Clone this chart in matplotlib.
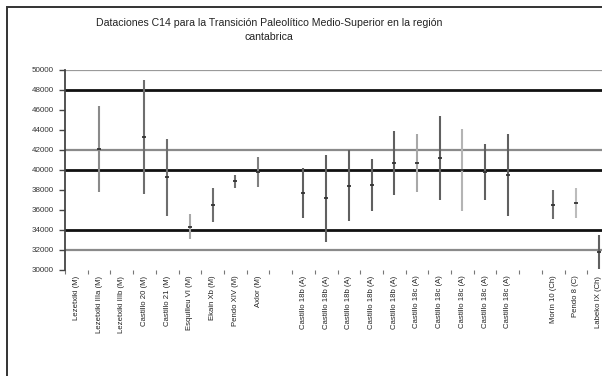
import numpy as np
import matplotlib
matplotlib.use("Agg")
import matplotlib.pyplot as plt
from matplotlib.patches import Rectangle

plt.rcParams['font.family'] = ['Liberation Sans', 'DejaVu Sans']

# Muestras (una por columna; las cadenas vacías son huecos entre grupos)
muestras = [
    "Lezetxiki (M)", "Lezetxiki IIIa (M)", "Lezetxiki IIIb (M)",
    "Castillo 20 (M)", "Castillo 21 (M)", "Esquilleu VI (M)",
    "Ekain Xb (M)", "Pendo XIV (M)", "Axlor (M)", "",
    "Castillo 18b (A)", "Castillo 18b (A)", "Castillo 18b (A)",
    "Castillo 18b (A)", "Castillo 18b (A)",
    "Castillo 18c (A)", "Castillo 18c (A)", "Castillo 18c (A)",
    "Castillo 18c (A)", "Castillo 18c (A)", "",
    "Morín 10 (Ch)", "Pendo 8 (C)", "Labeko IX (Ch)",
]

# Fecha BP y desviación (NaN = sin datación representada)
fecha = [np.nan, 42100, np.nan, 43300, 39300, 34350, 36550, 38900, 39800, np.nan,
         37700, 37170, 38450, 38500, 40700, 40700, 41200, 40000, 39800, 39500,
         np.nan, 36550, 36700, 31800]
sigma = [np.nan, 4300, np.nan, 5700, 3850, 1250, 1700, 650, 1500, np.nan,
         2530, 4330, 3550, 2570, 3180, 2920, 4200, 4100, 2800, 4100,
         np.nan, 1420, 1530, 1700]

# Líneas de referencia horizontales
niveles_ref = [50000, 48000, 42000, 40000, 34000, 32000]
estilo_ref = [("#9a9a9a", 1.6), ("#111111", 2.0), ("#8a8a8a", 1.6),
              ("#111111", 2.0), ("#111111", 2.0), ("#8a8a8a", 1.6)]

color_barra = ["#808080", "#8a8a8a", "#808080", "#6e6e6e", "#6e6e6e", "#a8a8a8",
               "#6e6e6e", "#6e6e6e", "#808080", "#808080",
               "#606060", "#606060", "#606060", "#606060", "#606060",
               "#a8a8a8", "#606060", "#b4b4b4", "#606060", "#606060",
               "#808080", "#6e6e6e", "#bcbcbc", "#606060"]

W, H = 602, 376
fig = plt.figure(figsize=(W / 100, H / 100), dpi=100)
fig.patch.set_facecolor("white")

# Marco exterior del gráfico
fig.add_artist(Rectangle((7 / W, -0.1), 1.2, 1 - 7 / H + 0.1,
                         transform=fig.transFigure, fill=False,
                         edgecolor="#333333", linewidth=1.4))

ax = fig.add_axes([65 / W, 106 / H, 545 / W, 200 / H])
n = len(muestras)
x = np.arange(n)
f = np.array(fecha, dtype=float)
s = np.array(sigma, dtype=float)

for nivel, (c, lw) in zip(niveles_ref, estilo_ref):
    ax.axhline(nivel, color=c, linewidth=lw, zorder=1)

ok = ~np.isnan(f)
ax.vlines(x[ok], (f - s)[ok], (f + s)[ok],
          colors=[color_barra[i] for i in np.where(ok)[0]],
          linewidth=1.5, zorder=2)
ax.plot(x[ok], f[ok], linestyle="none", marker="_", markersize=3,
        markeredgewidth=1.3, color="#333333", zorder=3)

ax.set_xlim(-0.5, n - 0.5)
ax.set_ylim(30000, 50000)
ax.set_yticks(np.arange(30000, 50001, 2000))
ax.set_yticklabels([str(v) for v in range(30000, 50001, 2000)],
                   fontsize=5.8, color="#333333")
ax.set_xticks(x)
ax.set_xticklabels(muestras, rotation=90, fontsize=5.6, color="#222222",
                   va="top", ha="center")
ax.set_xticks(np.arange(-0.5, n, 1), minor=True)
ax.tick_params(axis="x", which="major", length=0, pad=4)
ax.tick_params(axis="x", which="minor", length=3, width=0.8, color="#777777")
ax.tick_params(axis="y", length=4, width=1.0, color="#444444", pad=4)

for side in ("top", "right", "bottom"):
    ax.spines[side].set_visible(False)
ax.spines["left"].set_color("#444444")
ax.spines["left"].set_linewidth(1.3)
ax.set_facecolor("white")

fig.text(269 / W, 1 - 23 / H,
         "Dataciones C14 para la Transición Paleolítico Medio-Superior en la región",
         ha="center", va="center", fontsize=7.6, color="#222222")
fig.text(269 / W, 1 - 37 / H, "cantabrica", ha="center", va="center",
         fontsize=7.6, color="#222222")

fig.savefig("out.png", dpi=100)
